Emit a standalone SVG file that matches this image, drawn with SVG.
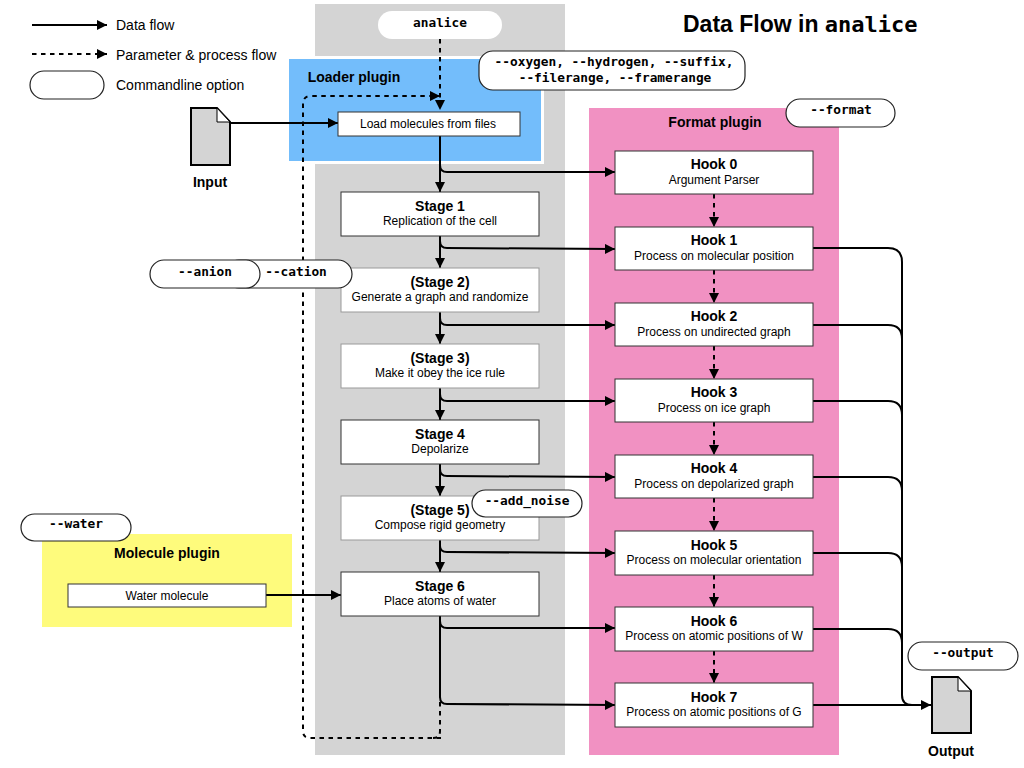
<svg xmlns="http://www.w3.org/2000/svg" width="1024" height="768" viewBox="0 0 1024 768">
<style>
text{font-family:"Liberation Sans",Arial,sans-serif;font-size:12px;fill:#000;text-anchor:middle}
.b{font-weight:bold;font-size:14px}
.l{text-anchor:start;font-size:14px}
.m{font-family:"DejaVu Sans Mono",monospace;font-weight:bold;font-size:12.8px}
.box{fill:#fff;stroke:#333;stroke-width:1}
.lite{fill:#fff;stroke:#999;stroke-width:1}
.pill{fill:#fff;stroke:#222;stroke-width:1.2}
.s{fill:none;stroke:#000;stroke-width:2}
.d{fill:none;stroke:#000;stroke-width:2;stroke-dasharray:4.5 4.5}
.doc{fill:#d4d4d4;stroke:#000;stroke-width:2}
.fold{fill:#fff;stroke:#000;stroke-width:1}
</style>
<defs>
<marker id="a" markerUnits="userSpaceOnUse" markerWidth="12" markerHeight="12" refX="10" refY="5" orient="auto"><path d="M0 0L10 5L0 10Z" fill="#000"/></marker>
</defs>

<g id="panels">
<rect x="315" y="4" width="250" height="751" fill="#d4d4d4"/>
<rect x="289" y="56" width="255" height="108" fill="#fff"/>
<rect x="289" y="59" width="252" height="102" fill="#73bdfb"/>
<rect x="589" y="108" width="250" height="647" fill="#f191c2"/>
<rect x="42" y="534" width="250" height="93" fill="#fefb7c"/>
<text class="b" x="354" y="82">Loader plugin</text>
<text class="b" x="715" y="127">Format plugin</text>
<text class="b" x="167" y="558">Molecule plugin</text>
</g>

<g id="title"><text x="683" y="32" style="text-anchor:start;font-size:23px;font-weight:bold">Data Flow in <tspan style="font-family:'DejaVu Sans Mono',monospace;font-size:22px">analice</tspan></text></g>

<g id="legend">
<path class="s" d="M32 25H107" marker-end="url(#a)"/>
<path class="d" d="M32 54H107" marker-end="url(#a)"/>
<rect class="pill" x="30" y="71" width="74" height="28" rx="14"/>
<text class="l" x="116" y="30">Data flow</text>
<text class="l" x="116" y="60">Parameter &amp; process flow</text>
<text class="l" x="116" y="90">Commandline option</text>
</g>

<g id="connectors">
<path class="d" d="M440 39V110" marker-end="url(#a)"/>
<path class="d" d="M441 738H310Q303 738 303 731V104Q303 96 311 96H440" marker-end="url(#a)"/>
<path class="d" d="M440 630V731Q440 738 433 738"/>
<path class="s" d="M231 123H338" marker-end="url(#a)"/>
<path class="s" d="M440 136V192" marker-end="url(#a)"/>
<path class="s" d="M440 236V268" marker-end="url(#a)"/>
<path class="s" d="M440 312V344" marker-end="url(#a)"/>
<path class="s" d="M440 388V420" marker-end="url(#a)"/>
<path class="s" d="M440 464V496" marker-end="url(#a)"/>
<path class="s" d="M440 540V572" marker-end="url(#a)"/>
<path class="s" d="M266 595H341" marker-end="url(#a)"/>
<path class="s" d="M440 136V165Q440 172 447 172H615" marker-end="url(#a)"/>
<path class="s" d="M440 236V241Q440 248 447 248L615 249" marker-end="url(#a)"/>
<path class="s" d="M440 312V318Q440 325 447 325H615" marker-end="url(#a)"/>
<path class="s" d="M440 388V394Q440 401 447 401H615" marker-end="url(#a)"/>
<path class="s" d="M440 464V469Q440 476 447 476L615 477" marker-end="url(#a)"/>
<path class="s" d="M440 540V546Q440 552 447 552L615 553" marker-end="url(#a)"/>
<path class="s" d="M440 616V621Q440 628 447 628H615" marker-end="url(#a)"/>
<path class="s" d="M440 616V697Q440 704 447 704L615 705" marker-end="url(#a)"/>
<path class="d" d="M714 194V227" marker-end="url(#a)"/>
<path class="d" d="M714 270V303" marker-end="url(#a)"/>
<path class="d" d="M714 346V379" marker-end="url(#a)"/>
<path class="d" d="M714 422V455" marker-end="url(#a)"/>
<path class="d" d="M714 498V531" marker-end="url(#a)"/>
<path class="d" d="M714 575V607" marker-end="url(#a)"/>
<path class="d" d="M714 651V683" marker-end="url(#a)"/>
<path class="s" d="M813 248H888Q902 248 902 262V695Q902 705 912 705"/>
<path class="s" d="M813 325H888Q902 325 902 339V342"/>
<path class="s" d="M813 401H888Q902 401 902 415V418"/>
<path class="s" d="M813 477H888Q902 477 902 491V494"/>
<path class="s" d="M813 553H888Q902 553 902 567V570"/>
<path class="s" d="M813 629H888Q902 629 902 643V646"/>
<path class="s" d="M813 705H931" marker-end="url(#a)"/>
</g>

<g id="loader-box"><rect class="box" x="338" y="112" width="182" height="24"/><text x="428" y="128">Load molecules from files</text></g>
<g id="input"><path class="doc" d="M191 108H217L230 122V165H191Z"/><path class="fold" d="M217 108V122H230Z"/><text x="210" y="187" style="font-weight:bold;font-size:14px">Input</text></g>
<g id="output"><path class="doc" d="M932 677H958L971 691V733H932Z"/><path class="fold" d="M958 677V691H971Z"/><text x="951" y="756" style="font-weight:bold;font-size:14px">Output</text></g>

<g id="stage1"><rect class="box" x="341" y="192" width="198" height="44"/><text class="b" x="440" y="211">Stage 1</text><text x="440" y="225">Replication of the cell</text></g>
<g id="stage2"><rect class="lite" x="341" y="268" width="198" height="44"/><text class="b" x="440" y="287">(Stage 2)</text><text x="440" y="301">Generate a graph and randomize</text></g>
<g id="stage3"><rect class="lite" x="341" y="344" width="198" height="44"/><text class="b" x="440" y="363">(Stage 3)</text><text x="440" y="377">Make it obey the ice rule</text></g>
<g id="stage4"><rect class="box" x="341" y="420" width="198" height="44"/><text class="b" x="440" y="439">Stage 4</text><text x="440" y="453">Depolarize</text></g>
<g id="stage5"><rect class="lite" x="341" y="496" width="198" height="44"/><text class="b" x="440" y="515">(Stage 5)</text><text x="440" y="529">Compose rigid geometry</text></g>
<g id="stage6"><rect class="box" x="341" y="572" width="198" height="44"/><text class="b" x="440" y="591">Stage 6</text><text x="440" y="605">Place atoms of water</text></g>

<g id="hook0"><rect class="box" x="615" y="151" width="198" height="43"/><text class="b" x="714" y="169">Hook 0</text><text x="714" y="184">Argument Parser</text></g>
<g id="hook1"><rect class="box" x="615" y="227" width="198" height="43"/><text class="b" x="714" y="245">Hook 1</text><text x="714" y="260">Process on molecular position</text></g>
<g id="hook2"><rect class="box" x="615" y="303" width="198" height="43"/><text class="b" x="714" y="321">Hook 2</text><text x="714" y="336">Process on undirected graph</text></g>
<g id="hook3"><rect class="box" x="615" y="379" width="198" height="43"/><text class="b" x="714" y="397">Hook 3</text><text x="714" y="412">Process on ice graph</text></g>
<g id="hook4"><rect class="box" x="615" y="455" width="198" height="43"/><text class="b" x="714" y="473">Hook 4</text><text x="714" y="488">Process on depolarized graph</text></g>
<g id="hook5"><rect class="box" x="615" y="531" width="198" height="44"/><text class="b" x="714" y="550">Hook 5</text><text x="714" y="564">Process on molecular orientation</text></g>
<g id="hook6"><rect class="box" x="615" y="607" width="198" height="44"/><text class="b" x="714" y="626">Hook 6</text><text x="714" y="640">Process on atomic positions of W</text></g>
<g id="hook7"><rect class="box" x="615" y="683" width="198" height="44"/><text class="b" x="714" y="702">Hook 7</text><text x="714" y="716">Process on atomic positions of G</text></g>

<g id="water"><rect class="box" x="68" y="584" width="198" height="23"/><text x="167" y="600">Water molecule</text></g>

<g id="opt-analice"><rect x="378" y="11" width="124" height="28" rx="14" fill="#fff"/><text class="m" x="440" y="27">analice</text></g>
<g id="opt-loader"><rect class="pill" x="479" y="51" width="266" height="39" rx="14"/><text class="m" x="614" y="66">--oxygen, --hydrogen, --suffix,</text><text class="m" x="615" y="82">--filerange, --framerange</text></g>
<g id="opt-format"><rect class="pill" x="786" y="99" width="109" height="28" rx="14"/><text class="m" x="841" y="114">--format</text></g>
<g id="opt-cation"><rect class="pill" x="225" y="260" width="127" height="28" rx="14"/><text class="m" x="296" y="276">--cation</text></g>
<g id="opt-anion"><rect class="pill" x="150" y="260" width="110" height="28" rx="14"/><text class="m" x="205" y="276">--anion</text></g>
<g id="opt-noise"><rect class="pill" x="472" y="490" width="110" height="27" rx="13.5"/><text class="m" x="527" y="505">--add_noise</text></g>
<g id="opt-water"><rect class="pill" x="21" y="514" width="110" height="27" rx="13.5"/><text class="m" x="76" y="528">--water</text></g>
<g id="opt-output"><rect class="pill" x="908" y="642" width="110" height="28" rx="14"/><text class="m" x="963" y="657">--output</text></g>
</svg>
